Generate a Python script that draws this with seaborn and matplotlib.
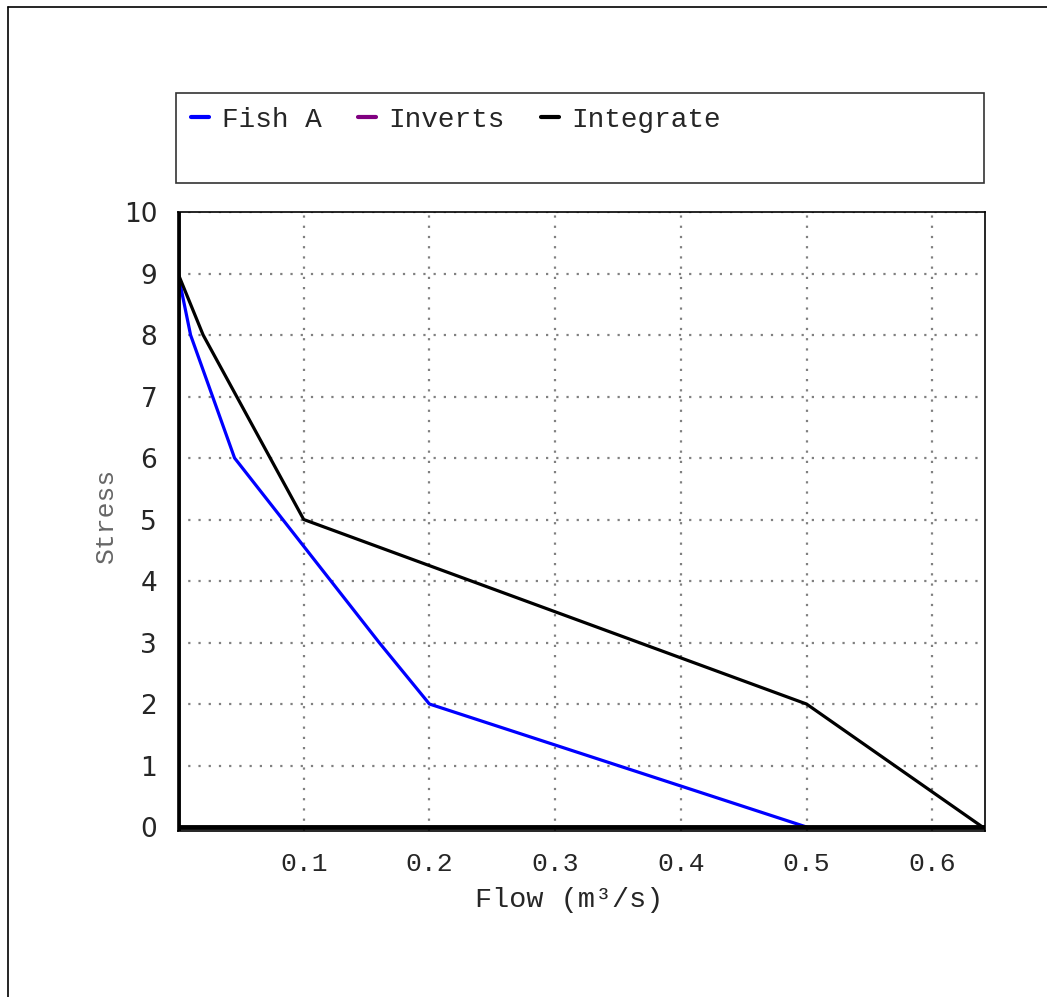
import matplotlib
matplotlib.use("Agg")
import matplotlib.pyplot as plt
from matplotlib.lines import Line2D
from matplotlib.patches import Rectangle
from matplotlib.ticker import MultipleLocator
import seaborn as sns
import pandas as pd

# Stress level vs. flow for each component
fish_flow = [0.0, 0.01, 0.045, 0.16, 0.2, 0.5]
fish_stress = [9, 8, 6, 3, 2, 0]
integrate_flow = [0.0, 0.02, 0.1, 0.5, 0.64]
integrate_stress = [9, 8, 5, 2, 0]
series_names = ["Fish A", "Inverts", "Integrate"]
series_colors = ["#0000ff", "#800080", "#000000"]
x_ticks = [0.1, 0.2, 0.3, 0.4, 0.5, 0.6]
y_ticks = list(range(0, 11))

sns.set_style("white")
mono = "Liberation Mono"

fig = plt.figure(figsize=(10.47, 9.97), dpi=100)
W, H = 1047, 997
ax = fig.add_axes([178 / W, 1 - 831 / H, (985 - 178) / W, (831 - 212) / H])

df = pd.concat([
    pd.DataFrame({"flow": fish_flow, "stress": fish_stress, "series": "Fish A"}),
    pd.DataFrame({"flow": integrate_flow, "stress": integrate_stress, "series": "Integrate"}),
], ignore_index=True)

palette = dict(zip(series_names, series_colors))
sns.lineplot(data=df, x="flow", y="stress", hue="series", palette=palette,
             sort=False, estimator=None, linewidth=2.3, legend=False, ax=ax,
             zorder=3)

# heavy zero reference lines along both axes
ax.axvline(0, color="black", linewidth=3.5, zorder=4)
ax.axhline(0, color="black", linewidth=3.5, zorder=4)

ax.set_xlim(0, 0.642)
ax.set_ylim(-0.065, 10)
ax.xaxis.set_major_locator(MultipleLocator(0.1))
ax.xaxis.set_minor_locator(MultipleLocator(0.025))
ax.yaxis.set_major_locator(MultipleLocator(1))
ax.yaxis.set_minor_locator(MultipleLocator(0.25))
ax.set_xticks(x_ticks)
ax.set_xticklabels([f"{t:.1f}" for t in x_ticks], fontfamily=mono, fontsize=19)
ax.set_yticks(y_ticks)
ax.set_yticklabels([str(t) for t in y_ticks], fontfamily="DejaVu Sans", fontsize=19)

ax.grid(True, which="major", color="#808080", linestyle=(0, (1, 3.6)), linewidth=1.6)
ax.tick_params(axis="x", which="major", direction="out", length=7, width=1.5,
               color="#808080", pad=8)
ax.tick_params(axis="x", which="minor", direction="out", length=3.5, width=1.3,
               color="#808080")
ax.tick_params(axis="y", which="major", direction="out", length=10, width=1.5,
               color="#808080", pad=5)
ax.tick_params(axis="y", which="minor", direction="out", length=5, width=1.3,
               color="#808080")
for side in ["top", "right", "bottom", "left"]:
    ax.spines[side].set_color("black")
    ax.spines[side].set_linewidth(1.2)

ax.set_xlabel("")
ax.set_ylabel("")
fig.text(569 / W, 1 - 900 / H, "Flow (m³/s)", fontfamily=mono, fontsize=20.5,
         ha="center", va="center")
fig.text(106 / W, 1 - 515 / H, "Stress", fontfamily=mono, fontsize=19,
         ha="center", va="center", rotation=90, color="#666666")

# legend box
fig.add_artist(Rectangle((176 / W, 1 - 183 / H), (984 - 176) / W, (183 - 93) / H,
                         transform=fig.transFigure, facecolor="white",
                         edgecolor="#333333", linewidth=1.2))
handles = [Line2D([], [], color=c, linewidth=3) for c in series_colors]
fig.legend(handles, series_names, loc="upper left",
           bbox_to_anchor=(180 / W, 1 - 96 / H), ncol=3, frameon=False,
           prop={"family": mono, "size": 20}, handlelength=0.65,
           handletextpad=0.45, columnspacing=1.3, borderaxespad=0)

# outer page border on the left and top
fig.add_artist(Line2D([8 / W, 8 / W], [0, 1 - 7 / H], transform=fig.transFigure,
                      color="black", linewidth=1.2))
fig.add_artist(Line2D([8 / W, 1], [1 - 7 / H, 1 - 7 / H], transform=fig.transFigure,
                      color="black", linewidth=1.2))

fig.savefig("out.png", dpi=100)
